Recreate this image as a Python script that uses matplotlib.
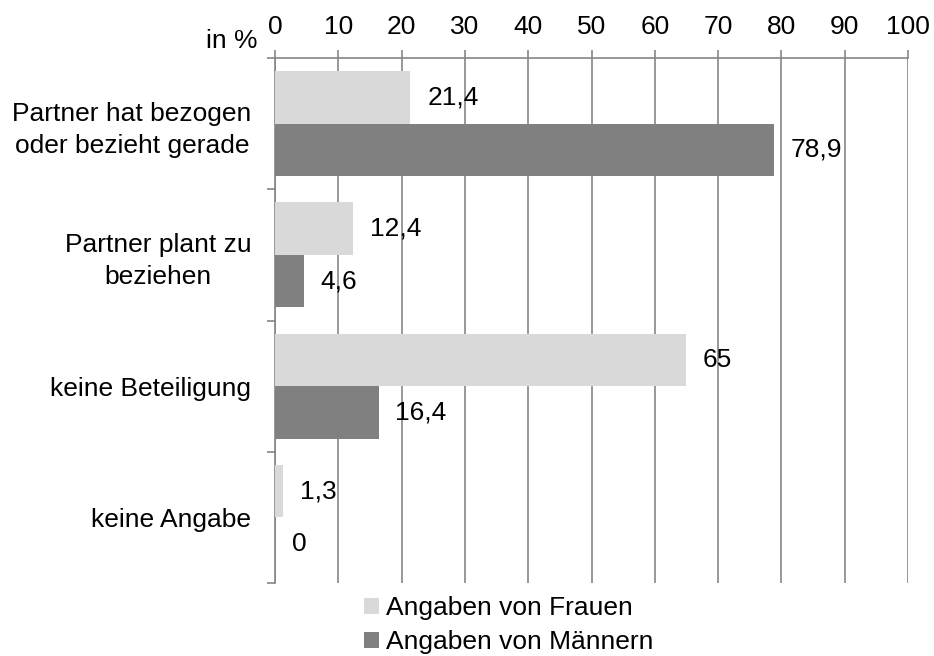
import matplotlib
matplotlib.use("Agg")
import matplotlib.pyplot as plt
from matplotlib.patches import Patch
import numpy as np

categories = ["Partner hat bezogen\noder bezieht gerade", "Partner plant zu\nbeziehen",
              "keine Beteiligung", "keine Angabe"]
frauen = [21.4, 12.4, 65, 1.3]
maenner = [78.9, 4.6, 16.4, 0]
frauen_labels = ["21,4", "12,4", "65", "1,3"]
maenner_labels = ["78,9", "4,6", "16,4", "0"]
series_names = ["Angaben von Frauen", "Angaben von Männern"]
xticks = list(range(0, 101, 10))

plt.rcParams['font.family'] = ['Liberation Sans', 'DejaVu Sans']
FS = 19
GRID = '#868686'

fig = plt.figure(figsize=(9.34, 6.56), dpi=100)
ax = fig.add_axes([275/934, 1-583/656, 633/934, 525/656])

y = np.arange(len(categories))
h = 0.4
ax.barh(y - h/2, frauen, height=h, color='#d9d9d9', zorder=3)
ax.barh(y + h/2, maenner, height=h, color='#808080', zorder=3)

for yi, v, lab in zip(y, frauen, frauen_labels):
    ax.annotate(lab, (v, yi - h/2), xytext=(12, 0), textcoords='offset points',
                va='center', ha='left', fontsize=FS, zorder=4)
for yi, v, lab in zip(y, maenner, maenner_labels):
    ax.annotate(lab, (v, yi + h/2), xytext=(12, 0), textcoords='offset points',
                va='center', ha='left', fontsize=FS, zorder=4)

ax.set_xlim(0, 100)
ax.set_ylim(len(categories) - 0.5, -0.5)
ax.xaxis.tick_top()
ax.set_xticks(xticks)
ax.set_xticklabels([str(t) for t in xticks], fontsize=FS)
ax.tick_params(axis='x', direction='out', length=6, width=1.2, color=GRID, pad=8)
ax.grid(axis='x', color=GRID, linewidth=1.2, zorder=0)

ax.set_yticks(y)
ax.set_yticklabels(categories, fontsize=FS, multialignment='center', linespacing=1.4)
ax.tick_params(axis='y', length=0, pad=17)
ax.set_yticks(np.arange(len(categories) + 1) - 0.5, minor=True)
ax.tick_params(axis='y', which='minor', direction='out', length=6, width=1.2, color=GRID)

for s in ['right', 'bottom']:
    ax.spines[s].set_visible(False)
for s in ['top', 'left']:
    ax.spines[s].set_color(GRID)
    ax.spines[s].set_linewidth(1.2)

fig.text(258/934, 1-41/656, "in %", ha='right', va='center', fontsize=FS)

handles = [Patch(facecolor='#d9d9d9'), Patch(facecolor='#808080')]
fig.legend(handles, series_names, loc='upper left', bbox_to_anchor=(364/934, 1-596/656),
           frameon=False, fontsize=FS, handlelength=0.55, handleheight=0.55,
           handletextpad=0.3, labelspacing=0.38, borderaxespad=0, borderpad=0)

fig.savefig("out.png", dpi=100)
